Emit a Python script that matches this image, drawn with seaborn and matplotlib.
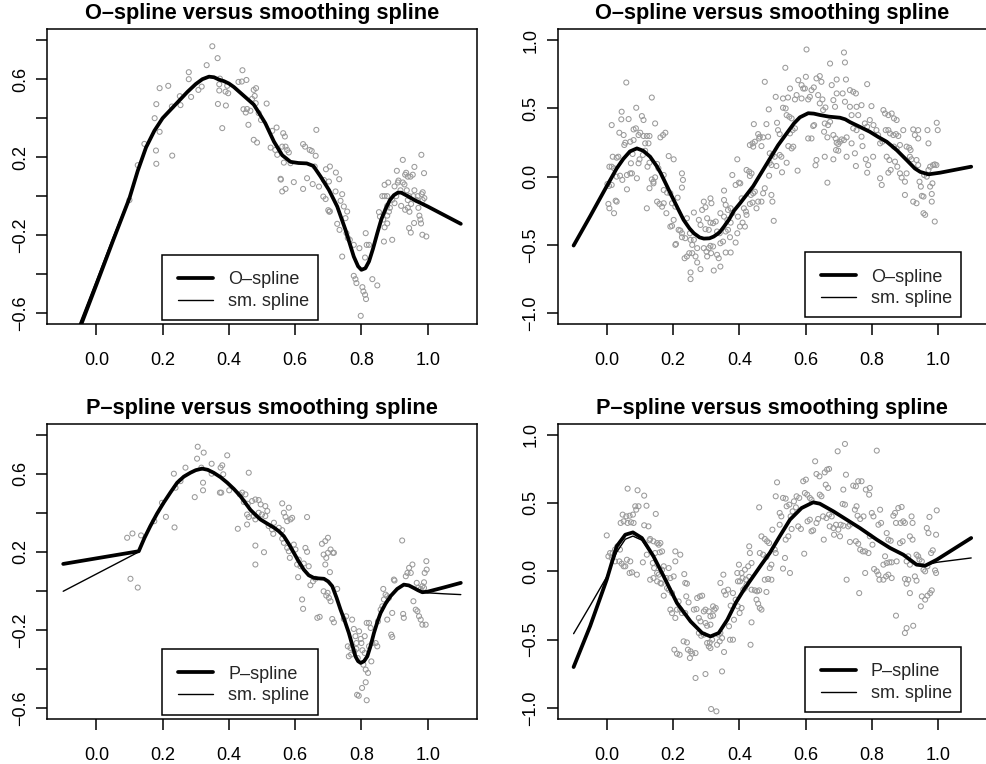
import numpy as np
import matplotlib
matplotlib.use("Agg")
import matplotlib.pyplot as plt
from matplotlib.patches import Rectangle
import seaborn as sns

# ---------------- data ----------------
# Top-left panel: O-spline vs smoothing spline
tl_points = [
    (0.10, -0.02), (0.125, 0.159), (0.145, 0.268), (0.176, 0.40), (0.18, 0.234), (0.181, 0.166),
    (0.181, 0.472), (0.191, 0.33), (0.191, 0.554), (0.217, 0.566), (0.229, 0.208), (0.228, 0.46),
    (0.252, 0.513), (0.254, 0.467), (0.279, 0.636), (0.279, 0.60), (0.286, 0.509), (0.308, 0.545),
    (0.318, 0.562), (0.333, 0.672), (0.35, 0.769), (0.366, 0.708), (0.373, 0.603), (0.371, 0.574),
    (0.371, 0.542), (0.367, 0.473), (0.38, 0.349), (0.39, 0.536), (0.398, 0.528), (0.391, 0.465),
    (0.395, 0.566), (0.429, 0.586), (0.439, 0.588), (0.441, 0.646), (0.453, 0.596), (0.444, 0.446),
    (0.451, 0.429), (0.459, 0.366), (0.475, 0.545), (0.482, 0.554), (0.47, 0.499), (0.478, 0.514),
    (0.455, 0.447), (0.465, 0.438), (0.481, 0.477), (0.49, 0.426), (0.497, 0.391), (0.514, 0.475),
    (0.475, 0.289), (0.485, 0.275), (0.531, 0.335), (0.544, 0.352), (0.526, 0.249), (0.54, 0.237),
    (0.546, 0.212), (0.564, 0.323), (0.569, 0.306), (0.561, 0.254), (0.571, 0.254), (0.576, 0.237),
    (0.581, 0.224), (0.566, 0.172), (0.586, 0.169), (0.556, 0.089), (0.557, 0.085), (0.561, 0.024),
    (0.571, 0.037), (0.596, 0.072), (0.624, 0.267), (0.63, 0.254), (0.644, 0.237), (0.65, 0.232),
    (0.662, 0.207), (0.664, 0.34), (0.624, 0.037), (0.636, 0.092), (0.653, 0.062), (0.672, 0.049),
    (0.659, 0.152), (0.685, -0.002), (0.692, -0.015), (0.693, 0.138), (0.705, 0.152), (0.687, 0.083),
    (0.702, 0.075), (0.723, 0.121), (0.733, 0.087), (0.700, -0.072), (0.705, -0.078), (0.703, -0.080),
    (0.722, 0.024), (0.737, -0.024), (0.742, 0.01), (0.747, -0.053), (0.757, -0.079), (0.752, -0.113),
    (0.727, -0.142), (0.734, -0.173), (0.742, -0.31), (0.755, -0.19), (0.759, -0.215), (0.765, -0.224),
    (0.777, -0.25), (0.794, -0.267), (0.813, -0.19), (0.816, -0.25), (0.823, -0.25), (0.811, -0.315),
    (0.777, -0.409), (0.782, -0.426), (0.785, -0.446), (0.803, -0.467), (0.806, -0.489), (0.811, -0.506),
    (0.814, -0.528), (0.798, -0.614), (0.833, -0.426), (0.848, -0.458), (0.853, -0.082), (0.856, -0.105),
    (0.866, -0.12), (0.870, -0.16), (0.878, -0.14), (0.878, -0.10), (0.883, -0.08), (0.886, -0.06),
    (0.878, -0.05), (0.868, -0.233), (0.893, -0.224), (0.870, 0.058), (0.881, 0.070), (0.863, 0.0),
    (0.870, 0.0), (0.878, 0.0), (0.893, -0.019), (0.9, -0.036), (0.9, 0.05), (0.905, 0.0),
    (0.91, 0.07), (0.912, 0.08), (0.918, 0.03), (0.925, 0.07), (0.93, 0.06), (0.937, 0.03),
    (0.94, -0.02), (0.944, 0.0), (0.907, 0.13), (0.925, 0.186), (0.932, 0.11), (0.935, 0.12),
    (0.94, 0.10), (0.948, 0.10), (0.955, 0.11), (0.96, 0.15), (0.981, 0.212), (0.989, 0.118),
    (0.92, -0.05), (0.932, -0.07), (0.94, -0.06), (0.945, -0.08), (0.95, -0.04), (0.944, -0.164),
    (0.949, -0.187), (0.959, -0.138), (0.967, -0.02), (0.972, -0.06), (0.975, -0.10), (0.978, -0.12),
    (0.98, -0.14), (0.97, 0.0), (0.985, 0.02), (0.982, 0.01), (0.985, -0.02), (0.99, -0.01),
    (0.984, -0.198), (0.996, -0.207), (0.957, 0.0), (0.96, 0.03),
]
tl_fit_x = [-0.1, 0.0, 0.05, 0.1, 0.125, 0.15, 0.175, 0.2, 0.225, 0.25, 0.275, 0.3, 0.32, 0.34,
            0.355, 0.37, 0.385, 0.4, 0.415, 0.435, 0.455, 0.475, 0.49, 0.51, 0.536, 0.561, 0.586,
            0.61, 0.635, 0.655, 0.677, 0.702, 0.727, 0.752, 0.777, 0.79, 0.80, 0.812, 0.823, 0.835,
            0.848, 0.86, 0.873, 0.886, 0.898, 0.91, 0.92, 0.94, 0.96, 1.0, 1.1]
tl_fit_y = [-0.90, -0.455, -0.23, -0.01, 0.13, 0.25, 0.335, 0.40, 0.445, 0.49, 0.535, 0.575, 0.60,
            0.613, 0.61, 0.598, 0.59, 0.578, 0.56, 0.53, 0.50, 0.47, 0.43, 0.374, 0.28, 0.21, 0.176,
            0.17, 0.168, 0.155, 0.10, 0.032, -0.053, -0.173, -0.31, -0.36, -0.378, -0.37, -0.335, -0.27,
            -0.19, -0.12, -0.065, -0.02, 0.005, 0.018, 0.018, 0.0, -0.02, -0.053, -0.142]
tl_sm_x = [-0.1, 0.0, 0.05, 0.1, 0.125, 0.15, 0.175, 0.2, 0.225, 0.25, 0.275, 0.3, 0.32, 0.34,
           0.355, 0.37, 0.385, 0.4, 0.415, 0.435, 0.455, 0.475, 0.49, 0.51, 0.536, 0.561, 0.586,
           0.61, 0.635, 0.655, 0.677, 0.702, 0.727, 0.752, 0.777, 0.79, 0.80, 0.812, 0.823, 0.835,
           0.848, 0.86, 0.873, 0.886, 0.898, 0.91, 0.92, 0.94, 0.96, 1.0, 1.1]
tl_sm_y = [-0.87, -0.435, -0.215, -0.005, 0.13, 0.25, 0.335, 0.40, 0.445, 0.49, 0.535, 0.575, 0.60,
           0.613, 0.61, 0.598, 0.59, 0.578, 0.56, 0.53, 0.50, 0.47, 0.43, 0.374, 0.28, 0.21, 0.176,
           0.17, 0.168, 0.155, 0.10, 0.032, -0.053, -0.173, -0.31, -0.36, -0.378, -0.37, -0.335, -0.27,
           -0.19, -0.12, -0.065, -0.02, 0.005, 0.018, 0.018, 0.0, -0.02, -0.053, -0.142]

# Top-right panel: O-spline vs smoothing spline
tr_points = [
    (0.059, 0.69), (0.136, 0.58), (0.015, 0.378), (0.045, 0.476), (0.089, 0.505), (0.106, 0.444),
    (0.111, 0.415), (0.066, 0.422), (0.044, 0.42), (0.038, 0.322), (0.051, 0.305), (0.081, 0.346),
    (0.088, 0.354), (0.101, 0.322), (0.111, 0.298), (0.121, 0.298), (0.129, 0.298), (0.146, 0.39),
    (0.162, 0.288), (0.17, 0.305), (0.177, 0.322), (0.056, 0.249), (0.071, 0.256), (0.081, 0.268),
    (0.096, 0.305), (0.116, 0.244), (0.126, 0.244), (0.053, 0.232), (0.078, 0.166), (0.018, 0.146),
    (0.03, 0.139), (0.035, 0.146), (0.008, 0.073), (0.015, 0.073), (0.022, 0.061), (0.03, 0.0),
    (0.047, -0.024), (0.04, 0.007), (0.061, 0.012), (0.071, 0.024), (0.076, 0.024), (0.073, 0.098),
    (0.091, -0.012), (0.096, 0.098), (0.099, 0.127), (0.109, 0.159), (0.116, 0.19), (0.123, 0.073),
    (0.129, 0.102), (0.136, -0.02), (0.141, -0.037), (0.146, -0.005), (0.152, 0.093), (0.156, 0.061),
    (0.172, 0.012), (0.187, 0.151), (0.202, 0.127), (0.227, 0.024), (0.23, -0.024), (0.227, -0.08),
    (0.002, -0.054), (0.007, -0.068), (0.015, -0.061), (0.061, -0.093), (0.005, -0.2), (0.008, -0.232),
    (0.022, -0.268), (0.027, -0.176), (0.03, -0.183), (0.121, -0.232), (0.129, -0.085), (0.141, -0.049),
    (0.152, -0.183), (0.159, -0.2), (0.167, -0.22), (0.172, -0.195), (0.18, -0.268), (0.172, -0.098),
    (0.182, -0.117), (0.192, -0.122), (0.197, -0.195), (0.207, -0.22), (0.214, -0.154), (0.192, -0.366),
    (0.197, -0.361), (0.202, -0.317), (0.207, -0.5), (0.209, -0.493), (0.217, -0.39), (0.222, -0.395),
    (0.227, -0.415), (0.242, -0.305), (0.227, -0.444), (0.237, -0.451), (0.251, -0.415), (0.253, -0.463),
    (0.258, -0.5), (0.263, -0.463), (0.273, -0.524), (0.235, -0.598), (0.242, -0.585), (0.249, -0.561),
    (0.258, -0.561), (0.268, -0.585), (0.273, -0.629), (0.283, -0.678), (0.253, -0.702), (0.253, -0.751),
    (0.293, -0.183), (0.298, -0.224), (0.313, -0.159), (0.316, -0.195), (0.288, -0.244), (0.263, -0.263),
    (0.278, -0.317), (0.283, -0.354), (0.303, -0.305), (0.298, -0.385), (0.308, -0.39), (0.313, -0.337),
    (0.321, -0.341), (0.329, -0.329), (0.333, -0.402), (0.341, -0.415), (0.293, -0.524), (0.301, -0.549),
    (0.308, -0.524), (0.313, -0.507), (0.321, -0.512), (0.303, -0.585), (0.315, -0.561), (0.323, -0.688),
    (0.343, -0.659), (0.333, -0.573), (0.338, -0.598), (0.343, -0.488), (0.351, -0.476), (0.354, -0.171),
    (0.359, -0.207), (0.366, -0.244), (0.374, -0.232), (0.343, -0.268), (0.354, -0.293), (0.364, -0.317),
    (0.374, -0.337), (0.379, -0.268), (0.359, -0.402), (0.366, -0.39), (0.372, -0.444), (0.359, -0.556),
    (0.374, -0.556), (0.389, -0.483), (0.394, -0.415), (0.354, -0.102), (0.379, 0.012), (0.394, 0.127),
    (0.389, -0.061), (0.399, -0.044), (0.396, -0.293), (0.402, -0.366),
    (0.403, -0.049), (0.407, -0.159), (0.414, -0.232), (0.42, -0.256), (0.422, -0.28), (0.41, -0.337),
    (0.417, -0.366), (0.432, -0.2), (0.44, -0.19), (0.435, -0.134), (0.442, -0.122), (0.447, -0.11),
    (0.422, 0.049), (0.43, 0.037), (0.437, 0.024), (0.432, 0.005), (0.432, 0.232), (0.44, 0.244),
    (0.447, 0.256), (0.457, 0.312), (0.46, 0.28), (0.467, 0.224), (0.462, 0.293), (0.472, 0.288),
    (0.487, 0.293), (0.477, 0.695), (0.444, 0.385), (0.457, -0.183), (0.467, -0.183), (0.472, -0.122),
    (0.477, -0.085), (0.442, 0.22), (0.452, -0.232), (0.482, 0.385), (0.492, 0.171), (0.5, 0.159),
    (0.507, 0.146), (0.492, 0.102), (0.497, 0.085), (0.49, 0.007), (0.497, -0.134), (0.5, -0.183),
    (0.504, -0.324), (0.489, 0.493), (0.51, 0.585), (0.514, 0.395), (0.517, 0.341), (0.522, 0.312),
    (0.512, 0.078), (0.522, 0.159), (0.527, 0.146), (0.529, 0.032), (0.539, 0.798), (0.532, 0.505),
    (0.54, 0.5), (0.532, 0.573), (0.547, 0.58), (0.543, 0.451), (0.551, 0.439), (0.558, 0.427),
    (0.553, 0.646), (0.543, 0.102), (0.548, 0.224), (0.558, 0.207), (0.563, 0.22), (0.553, 0.317),
    (0.561, 0.341), (0.568, 0.354), (0.568, 0.566), (0.573, 0.598), (0.576, 0.044), (0.578, 0.707),
    (0.588, 0.671), (0.593, 0.646), (0.588, 0.573), (0.598, 0.646), (0.601, 0.732), (0.603, 0.932),
    (0.608, 0.566), (0.613, 0.585), (0.618, 0.634), (0.625, 0.654), (0.623, 0.371), (0.626, 0.378),
    (0.608, 0.28), (0.618, 0.28), (0.633, 0.122), (0.63, 0.083), (0.633, 0.72), (0.643, 0.737),
    (0.648, 0.695), (0.638, 0.598), (0.643, 0.537), (0.651, 0.566), (0.653, 0.488), (0.66, 0.507),
    (0.658, 0.39), (0.668, 0.378), (0.674, 0.402), (0.656, 0.329), (0.666, 0.288), (0.658, 0.146),
    (0.674, 0.829), (0.666, -0.044), (0.679, 0.671), (0.684, 0.561), (0.689, 0.512), (0.694, 0.712),
    (0.684, 0.305), (0.691, 0.28), (0.694, 0.249), (0.699, 0.239), (0.704, 0.256), (0.684, 0.127),
    (0.692, 0.195), (0.699, 0.19), (0.716, 0.91), (0.719, 0.837), (0.722, 0.712), (0.694, 0.61),
    (0.712, 0.61), (0.719, 0.549), (0.709, 0.273), (0.716, 0.268), (0.724, 0.288), (0.724, 0.146),
    (0.734, 0.634), (0.744, 0.622), (0.752, 0.61), (0.734, 0.512), (0.739, 0.451), (0.744, 0.354),
    (0.754, 0.341), (0.739, 0.244), (0.749, 0.171), (0.752, 0.078), (0.754, 0.512), (0.759, 0.451),
    (0.769, 0.524), (0.769, 0.293), (0.772, 0.224), (0.779, 0.39), (0.786, 0.366), (0.794, 0.415),
    (0.786, 0.678), (0.782, 0.127), (0.789, 0.085), (0.786, 0.029), (0.799, 0.517), (0.804, 0.146),
    (0.805, 0.378), (0.814, 0.341), (0.819, 0.305), (0.825, -0.012), (0.83, -0.061), (0.835, 0.488),
    (0.84, 0.463), (0.85, 0.451), (0.842, 0.341), (0.85, 0.341), (0.855, 0.317), (0.825, 0.244),
    (0.832, 0.256), (0.845, 0.146), (0.853, 0.122), (0.85, 0.029), (0.857, 0.049), (0.86, 0.463),
    (0.867, 0.427), (0.875, 0.415), (0.865, 0.305), (0.873, 0.312), (0.88, 0.298), (0.867, 0.22),
    (0.875, 0.207), (0.885, 0.232), (0.87, 0.11), (0.877, 0.073), (0.885, 0.024), (0.89, -0.007),
    (0.9, -0.037), (0.905, 0.024), (0.895, 0.341), (0.905, 0.22), (0.913, 0.212), (0.917, 0.195),
    (0.9, -0.134), (0.915, 0.146), (0.92, 0.127), (0.925, 0.346), (0.93, 0.305), (0.94, 0.341),
    (0.94, 0.28), (0.925, -0.183), (0.935, -0.195), (0.935, 0.122), (0.94, 0.085), (0.944, -0.037),
    (0.948, -0.073), (0.951, -0.141), (0.956, -0.146), (0.956, -0.268), (0.961, -0.28), (0.958, 0.012),
    (0.966, 0.0), (0.971, 0.244), (0.968, 0.341), (0.971, 0.049), (0.976, 0.073), (0.976, -0.073),
    (0.981, -0.127), (0.981, -0.183), (0.985, 0.085), (0.99, 0.09), (0.995, 0.085), (0.983, -0.049),
    (0.99, -0.329), (0.996, 0.395), (0.999, 0.341),
]
tr_fit_x = [-0.1, -0.05, 0.0, 0.03, 0.05, 0.07, 0.091, 0.11, 0.131, 0.15, 0.162, 0.18, 0.197, 0.215,
            0.232, 0.25, 0.263, 0.28, 0.293, 0.31, 0.323, 0.34, 0.354, 0.37, 0.384, 0.404, 0.442,
            0.467, 0.492, 0.517, 0.543, 0.565, 0.583, 0.608, 0.625, 0.643, 0.67, 0.704, 0.72, 0.734,
            0.764, 0.794, 0.82, 0.845, 0.875, 0.905, 0.93, 0.946, 0.971, 1.006, 1.1]
tr_fit_y = [-0.505, -0.29, -0.07, 0.06, 0.13, 0.185, 0.207, 0.19, 0.146, 0.08, 0.03, -0.06, -0.146,
            -0.235, -0.317, -0.38, -0.415, -0.445, -0.454, -0.452, -0.439, -0.41, -0.366, -0.31,
            -0.25, -0.19, -0.07, 0.03, 0.13, 0.23, 0.317, 0.39, 0.435, 0.465, 0.462, 0.452, 0.44,
            0.432, 0.42, 0.40, 0.365, 0.329, 0.29, 0.256, 0.195, 0.122, 0.06, 0.035, 0.017, 0.029, 0.073]
tr_sm_x = list(tr_fit_x)
tr_sm_y = list(tr_fit_y)

# Bottom-left panel: P-spline vs smoothing spline
bl_points = [
    (0.093, 0.272), (0.109, 0.294), (0.135, 0.284), (0.103, 0.062), (0.125, 0.017), (0.175, 0.357),
    (0.198, 0.451), (0.21, 0.379), (0.236, 0.325), (0.234, 0.6), (0.239, 0.528), (0.254, 0.562),
    (0.269, 0.631), (0.297, 0.48), (0.304, 0.677), (0.306, 0.738), (0.324, 0.708), (0.317, 0.631),
    (0.322, 0.554), (0.322, 0.515), (0.348, 0.651), (0.348, 0.6), (0.375, 0.631), (0.38, 0.643),
    (0.383, 0.597), (0.373, 0.503), (0.377, 0.503), (0.395, 0.694), (0.401, 0.515), (0.427, 0.318),
    (0.433, 0.494), (0.445, 0.455), (0.457, 0.446), (0.455, 0.34), (0.46, 0.378), (0.46, 0.605),
    (0.44, 0.503), (0.45, 0.494), (0.47, 0.46), (0.48, 0.468), (0.49, 0.465), (0.496, 0.443),
    (0.475, 0.383), (0.49, 0.4), (0.5, 0.391), (0.51, 0.383), (0.455, 0.391), (0.48, 0.366),
    (0.51, 0.434), (0.516, 0.409), (0.48, 0.232), (0.48, 0.135), (0.506, 0.198), (0.52, 0.332),
    (0.53, 0.315), (0.536, 0.349), (0.534, 0.292), (0.561, 0.448), (0.581, 0.426), (0.566, 0.4),
    (0.571, 0.379), (0.576, 0.357), (0.586, 0.366), (0.591, 0.374), (0.551, 0.323), (0.561, 0.311),
    (0.561, 0.267), (0.566, 0.246), (0.576, 0.22), (0.581, 0.203), (0.584, 0.169), (0.596, 0.237),
    (0.601, 0.212), (0.606, 0.135), (0.611, 0.16), (0.616, 0.126), (0.609, 0.07), (0.631, 0.22),
    (0.636, 0.2), (0.636, 0.378), (0.626, 0.14), (0.641, 0.126), (0.646, 0.029), (0.654, 0.049),
    (0.661, 0.062), (0.621, -0.044), (0.624, -0.092), (0.667, -0.138), (0.674, -0.133), (0.681, 0.241),
    (0.691, 0.255), (0.699, 0.272), (0.686, 0.186), (0.694, 0.169), (0.699, 0.195), (0.707, 0.212),
    (0.714, 0.195), (0.717, 0.195), (0.691, 0.135), (0.705, 0.096), (0.686, -0.002), (0.694, -0.024),
    (0.702, -0.036), (0.707, -0.053), (0.698, -0.01), (0.712, -0.144), (0.717, -0.161), (0.727, 0.01),
    (0.747, -0.144), (0.754, -0.13), (0.759, -0.284), (0.762, -0.335), (0.769, -0.326), (0.767, -0.292),
    (0.772, -0.147), (0.777, -0.195), (0.782, -0.232), (0.785, -0.267), (0.793, -0.207), (0.798, -0.246),
    (0.8, -0.267), (0.779, -0.31), (0.785, -0.297), (0.789, -0.344), (0.803, -0.304), (0.81, -0.318),
    (0.806, -0.378), (0.813, -0.403), (0.82, -0.42), (0.787, -0.532), (0.792, -0.537), (0.802, -0.497),
    (0.813, -0.468), (0.816, -0.56), (0.816, -0.164), (0.823, -0.164), (0.828, -0.19), (0.81, -0.232),
    (0.823, -0.284), (0.833, -0.267), (0.843, -0.267), (0.848, -0.284), (0.83, -0.361), (0.85, -0.156),
    (0.858, -0.096), (0.863, -0.079), (0.868, -0.044), (0.873, -0.019), (0.866, 0.01), (0.878, -0.027),
    (0.883, -0.036), (0.878, -0.147), (0.89, -0.224), (0.893, -0.236), (0.893, -0.113), (0.898, 0.058),
    (0.9, 0.053), (0.923, 0.258), (0.926, -0.118), (0.928, -0.138), (0.934, 0.075), (0.939, 0.092),
    (0.944, 0.118), (0.949, 0.092), (0.954, 0.135), (0.957, -0.053), (0.964, -0.096), (0.969, -0.104),
    (0.974, -0.13), (0.979, -0.147), (0.984, -0.173), (0.971, 0.015), (0.979, 0.01), (0.984, 0.024),
    (0.989, 0.015), (0.967, 0.041), (0.989, 0.044), (0.991, 0.092), (0.996, 0.152), (0.997, 0.109),
    (0.994, -0.173),
]
bl_fit_x = [-0.1, 0.128, 0.145, 0.163, 0.183, 0.203, 0.224, 0.244, 0.264, 0.284, 0.30, 0.319, 0.336,
            0.354, 0.375, 0.395, 0.415, 0.435, 0.45, 0.465, 0.48, 0.495, 0.515, 0.536, 0.551, 0.566,
            0.581, 0.596, 0.611, 0.626, 0.641, 0.656, 0.671, 0.687, 0.70, 0.712, 0.725, 0.737, 0.75,
            0.762, 0.772, 0.782, 0.79, 0.798, 0.808, 0.818, 0.828, 0.838, 0.848, 0.858, 0.873, 0.888,
            0.908, 0.928, 0.943, 0.958, 0.971, 0.984, 1.0, 1.05, 1.1]
bl_fit_y = [0.138, 0.203, 0.27, 0.332, 0.395, 0.451, 0.505, 0.554, 0.585, 0.605, 0.618, 0.626, 0.62,
            0.605, 0.582, 0.554, 0.522, 0.485, 0.45, 0.415, 0.39, 0.366, 0.345, 0.324, 0.305, 0.28,
            0.24, 0.195, 0.15, 0.109, 0.08, 0.067, 0.064, 0.062, 0.048, 0.024, -0.035, -0.096, -0.155,
            -0.215, -0.275, -0.335, -0.36, -0.369, -0.36, -0.335, -0.28, -0.215, -0.16, -0.113, -0.065,
            -0.027, 0.01, 0.032, 0.028, 0.015, 0.003, -0.007, -0.004, 0.018, 0.041]
bl_sm_x = [-0.1, 0.123, 0.145, 0.163, 0.183, 0.203, 0.224, 0.244, 0.264, 0.284, 0.30, 0.319, 0.336,
           0.354, 0.375, 0.395, 0.415, 0.435, 0.45, 0.465, 0.48, 0.495, 0.515, 0.536, 0.551, 0.566,
           0.581, 0.596, 0.611, 0.626, 0.641, 0.656, 0.671, 0.687, 0.70, 0.712, 0.725, 0.737, 0.75,
           0.762, 0.772, 0.782, 0.79, 0.798, 0.808, 0.818, 0.828, 0.838, 0.848, 0.858, 0.873, 0.888,
           0.908, 0.928, 0.943, 0.958, 0.971, 0.984, 1.0, 1.05, 1.1]
bl_sm_y = [-0.002, 0.195, 0.265, 0.33, 0.395, 0.451, 0.505, 0.554, 0.585, 0.605, 0.618, 0.626, 0.62,
           0.605, 0.582, 0.554, 0.522, 0.485, 0.45, 0.415, 0.39, 0.366, 0.345, 0.324, 0.305, 0.28,
           0.24, 0.195, 0.15, 0.109, 0.08, 0.067, 0.064, 0.062, 0.048, 0.024, -0.035, -0.096, -0.155,
           -0.215, -0.275, -0.335, -0.36, -0.369, -0.36, -0.335, -0.28, -0.215, -0.16, -0.113, -0.065,
           -0.027, 0.01, 0.032, 0.028, 0.015, 0.003, -0.005, -0.01, -0.015, -0.019]

# Bottom-right panel: P-spline vs smoothing spline
br_points = [
    (0.063, 0.605), (0.093, 0.593), (0.113, 0.554), (0.12, 0.48), (0.086, 0.476), (0.096, 0.476),
    (0.089, 0.451), (0.148, 0.42), (0.048, 0.415), (0.059, 0.402), (0.069, 0.407), (0.079, 0.415),
    (0.042, 0.354), (0.051, 0.366), (0.063, 0.354), (0.073, 0.359), (0.081, 0.354), (0.113, 0.337),
    (0.126, 0.329), (0.0, 0.263), (0.01, 0.134), (0.018, 0.134), (0.025, 0.159), (0.032, 0.183),
    (0.04, 0.159), (0.005, 0.11), (0.015, 0.098), (0.025, 0.073), (0.038, 0.073), (0.045, 0.056),
    (0.051, 0.037), (0.056, 0.037), (0.061, 0.085), (0.071, 0.073), (0.069, -0.012), (0.076, -0.007),
    (0.091, -0.024), (0.109, 0.066), (0.121, 0.122), (0.129, 0.227), (0.131, 0.237), (0.141, 0.22),
    (0.152, 0.207), (0.157, 0.195), (0.162, 0.207), (0.146, 0.134), (0.16, 0.139), (0.167, 0.146),
    (0.139, 0.061), (0.143, 0.024), (0.152, -0.012), (0.131, -0.061), (0.141, -0.049), (0.152, -0.073),
    (0.162, -0.085), (0.165, -0.09), (0.172, -0.178), (0.157, -0.024), (0.167, 0.012), (0.172, 0.037),
    (0.18, -0.049), (0.192, -0.049), (0.202, -0.037), (0.182, -0.122), (0.187, -0.134), (0.197, -0.159),
    (0.207, 0.073), (0.207, 0.146), (0.187, 0.024), (0.222, 0.122), (0.234, -0.02), (0.237, -0.085),
    (0.242, -0.09), (0.192, -0.28), (0.197, -0.305), (0.207, -0.341), (0.212, -0.28), (0.217, -0.22),
    (0.222, -0.28), (0.227, -0.305), (0.237, -0.305), (0.24, -0.183), (0.247, -0.227), (0.204, -0.573),
    (0.212, -0.602), (0.22, -0.61), (0.232, -0.512), (0.242, -0.52), (0.245, -0.573), (0.253, -0.585),
    (0.258, -0.602), (0.251, -0.634), (0.268, -0.598), (0.263, -0.28), (0.271, -0.276), (0.273, -0.195),
    (0.281, -0.183), (0.288, -0.178), (0.278, -0.341), (0.283, -0.366), (0.298, -0.378), (0.303, -0.398),
    (0.313, -0.39), (0.278, -0.451), (0.285, -0.471), (0.293, -0.463), (0.293, -0.293), (0.298, -0.28),
    (0.308, -0.293), (0.321, -0.256), (0.325, -0.28), (0.329, -0.268), (0.313, -0.329), (0.321, -0.324),
    (0.303, -0.524), (0.311, -0.52), (0.318, -0.5), (0.308, -0.549), (0.313, -0.561), (0.298, -0.751),
    (0.268, -0.78), (0.315, -1.007), (0.331, -1.024), (0.333, -0.537), (0.341, -0.512), (0.348, -0.488),
    (0.338, -0.463), (0.343, -0.451), (0.348, -0.732), (0.354, -0.59), (0.343, -0.085), (0.354, -0.146),
    (0.359, -0.171), (0.366, -0.134), (0.352, -0.024), (0.374, -0.251), (0.369, -0.402), (0.372, -0.5),
    (0.381, -0.5), (0.381, -0.159), (0.389, -0.207), (0.396, -0.256), (0.384, -0.354), (0.394, -0.012),
    (0.399, 0.049), (0.396, -0.073), (0.402, -0.073),
    (0.401, -0.305), (0.407, -0.268), (0.412, -0.134), (0.417, -0.122), (0.422, -0.098), (0.41, -0.05),
    (0.42, -0.06), (0.43, -0.04), (0.407, -0.012), (0.417, 0.012), (0.427, 0.037), (0.437, 0.061),
    (0.432, 0.134), (0.43, 0.183), (0.437, -0.134), (0.447, -0.139), (0.454, -0.146), (0.46, -0.139),
    (0.452, -0.207), (0.457, -0.237), (0.462, -0.268), (0.467, -0.28), (0.437, -0.373), (0.434, -0.537),
    (0.46, 0.468), (0.462, 0.134), (0.472, 0.122), (0.482, 0.105), (0.467, 0.256), (0.477, 0.237),
    (0.484, 0.22), (0.49, 0.207), (0.477, -0.061), (0.487, -0.056), (0.497, -0.061), (0.482, -0.151),
    (0.5, 0.305), (0.492, 0.024), (0.497, 0.049), (0.507, 0.159), (0.51, 0.134), (0.514, 0.651),
    (0.51, 0.549), (0.522, 0.427), (0.527, 0.402), (0.522, 0.341), (0.532, 0.537), (0.54, 0.532),
    (0.543, 0.476), (0.551, 0.488), (0.532, 0.02), (0.553, -0.012), (0.54, 0.232), (0.548, 0.256),
    (0.538, 0.098), (0.555, 0.402), (0.561, 0.439), (0.558, 0.31), (0.565, 0.512), (0.571, 0.468),
    (0.573, 0.549), (0.581, 0.537), (0.578, 0.329), (0.586, 0.31), (0.593, 0.659), (0.601, 0.671),
    (0.598, 0.573), (0.605, 0.561), (0.596, 0.129), (0.606, 0.366), (0.613, 0.378), (0.613, 0.537),
    (0.618, 0.524), (0.618, 0.293), (0.623, 0.3), (0.629, 0.805), (0.633, 0.712), (0.642, 0.695),
    (0.633, 0.354), (0.638, 0.383), (0.643, 0.561), (0.648, 0.549), (0.655, 0.232), (0.658, 0.724),
    (0.665, 0.744), (0.671, 0.749), (0.661, 0.634), (0.668, 0.61), (0.653, 0.402), (0.663, 0.39),
    (0.671, 0.415), (0.673, 0.329), (0.684, 0.317), (0.692, 0.341), (0.699, 0.305), (0.679, 0.402),
    (0.686, 0.268), (0.697, 0.878), (0.704, 0.256), (0.706, 0.341), (0.714, 0.334), (0.712, 0.493),
    (0.719, 0.488), (0.714, 0.598), (0.719, 0.932), (0.722, 0.707), (0.724, -0.061), (0.729, 0.329),
    (0.734, 0.341), (0.734, 0.215), (0.744, 0.627), (0.752, 0.622), (0.749, 0.451), (0.754, 0.476),
    (0.759, 0.659), (0.769, 0.659), (0.762, -0.159), (0.757, 0.407), (0.765, 0.383), (0.775, 0.402),
    (0.752, 0.22), (0.759, 0.202), (0.765, 0.159), (0.773, 0.146), (0.78, 0.146), (0.79, 0.134),
    (0.782, 0.598), (0.794, 0.61), (0.792, 0.561), (0.78, -0.012), (0.794, 0.256), (0.802, 0.195),
    (0.8, 0.427), (0.805, 0.402), (0.815, 0.883), (0.82, 0.341), (0.828, 0.354), (0.825, 0.451),
    (0.807, 0.017), (0.815, 0.0), (0.82, -0.024), (0.823, -0.061), (0.835, -0.061), (0.843, -0.037),
    (0.85, -0.024), (0.86, -0.049), (0.84, 0.11), (0.845, 0.28), (0.85, 0.232), (0.857, 0.224),
    (0.835, 0.049), (0.845, 0.061), (0.853, 0.066), (0.86, 0.066), (0.865, 0.407), (0.87, 0.427),
    (0.873, 0.354), (0.873, -0.324), (0.875, 0.073), (0.885, 0.207), (0.893, 0.22), (0.88, 0.463),
    (0.89, 0.471), (0.887, 0.354), (0.895, 0.366), (0.9, 0.354), (0.9, -0.451), (0.905, -0.415),
    (0.925, -0.398), (0.905, 0.073), (0.91, 0.11), (0.915, 0.049), (0.9, -0.056), (0.905, -0.09),
    (0.91, -0.061), (0.915, -0.159), (0.915, 0.256), (0.923, 0.232), (0.92, 0.402), (0.923, 0.354),
    (0.93, -0.037), (0.935, -0.068), (0.935, 0.122), (0.94, 0.11), (0.944, 0.085), (0.951, 0.073),
    (0.948, -0.256), (0.951, -0.183), (0.961, -0.207), (0.968, -0.178), (0.976, -0.159), (0.981, -0.139),
    (0.956, 0.012), (0.961, 0.0), (0.968, 0.037), (0.966, 0.317), (0.971, 0.28), (0.974, 0.398),
    (0.979, 0.134), (0.984, 0.154), (0.991, 0.007), (0.994, -0.012), (0.994, 0.268), (0.996, 0.446),
]
br_fit_x = [-0.1, -0.05, 0.0, 0.03, 0.056, 0.079, 0.106, 0.141, 0.172, 0.212, 0.253, 0.288, 0.313,
            0.338, 0.364, 0.389, 0.415, 0.442, 0.467, 0.492, 0.522, 0.553, 0.588, 0.623, 0.643,
            0.684, 0.724, 0.764, 0.815, 0.855, 0.895, 0.935, 0.961, 0.996, 1.1]
br_fit_y = [-0.70, -0.40, -0.06, 0.183, 0.268, 0.285, 0.244, 0.11, -0.037, -0.232, -0.366, -0.451,
            -0.476, -0.451, -0.354, -0.232, -0.13, -0.037, 0.05, 0.134, 0.256, 0.378, 0.463, 0.505,
            0.495, 0.439, 0.378, 0.317, 0.232, 0.171, 0.122, 0.049, 0.041, 0.085, 0.244]
br_sm_x = list(br_fit_x)
br_sm_y = [-0.456, -0.25, -0.04, 0.14, 0.235, 0.258, 0.228, 0.11, -0.037, -0.232, -0.366, -0.451,
           -0.476, -0.451, -0.354, -0.232, -0.13, -0.037, 0.05, 0.134, 0.256, 0.378, 0.463, 0.505,
           0.495, 0.439, 0.378, 0.317, 0.232, 0.171, 0.122, 0.049, 0.045, 0.066, 0.098]

x_ticks = [0.0, 0.2, 0.4, 0.6, 0.8, 1.0]
x_ticklabels = ["0.0", "0.2", "0.4", "0.6", "0.8", "1.0"]
left_yticks = [-0.6, -0.4, -0.2, 0.0, 0.2, 0.4, 0.6, 0.8]
left_yticklabels = ["\u22120.6", "", "\u22120.2", "", "0.2", "", "0.6", ""]
right_yticks = [-1.0, -0.5, 0.0, 0.5, 1.0]
right_yticklabels = ["\u22121.0", "\u22120.5", "0.0", "0.5", "1.0"]
titles = ["O\u2013spline versus smoothing spline", "O\u2013spline versus smoothing spline",
          "P\u2013spline versus smoothing spline", "P\u2013spline versus smoothing spline"]
fit_labels = ["O\u2013spline", "O\u2013spline", "P\u2013spline", "P\u2013spline"]

# ---------------- styling ----------------
sns.set_theme(style="ticks")
plt.rcParams["font.family"] = ["Liberation Sans", "DejaVu Sans"]

GRAY = "#9a9a9a"
W, H = 986, 764
fig = plt.figure(figsize=(W / 100, H / 100), dpi=100)
fig.patch.set_facecolor("white")


def add_axes_px(l, t, r, b):
    return fig.add_axes([l / W, 1 - b / H, (r - l) / W, (b - t) / H])


# axes boxes and legend frames, in picture pixels (left, top, right, bottom)
boxes = [(47.3, 29.3, 476.7, 324.0), (557.7, 29.3, 987.1, 324.0),
         (47.3, 423.7, 476.7, 719.0), (557.7, 423.7, 987.1, 719.0)]
legend_frames = [(162.3, 255.0, 318.3, 320.0), (805.0, 252.3, 961.3, 317.3),
                 (162.3, 649.3, 318.3, 715.0), (805.0, 646.7, 961.3, 712.3)]

panels = [
    (tl_points, tl_fit_x, tl_fit_y, tl_sm_x, tl_sm_y, (-0.656, 0.856), left_yticks, left_yticklabels),
    (tr_points, tr_fit_x, tr_fit_y, tr_sm_x, tr_sm_y, (-1.08, 1.08), right_yticks, right_yticklabels),
    (bl_points, bl_fit_x, bl_fit_y, bl_sm_x, bl_sm_y, (-0.656, 0.856), left_yticks, left_yticklabels),
    (br_points, br_fit_x, br_fit_y, br_sm_x, br_sm_y, (-1.08, 1.08), right_yticks, right_yticklabels),
]

for i, (pts, fx, fy, sx, sy, ylim, yt, ytl) in enumerate(panels):
    ax = add_axes_px(*boxes[i])
    ax.set_facecolor("white")
    px = [p[0] for p in pts]
    py = [p[1] for p in pts]
    sns.scatterplot(x=px, y=py, ax=ax, marker="o", s=13, color=GRAY, facecolors="none",
                    edgecolor=GRAY, linewidth=0.75, legend=False, zorder=2)
    sns.lineplot(x=fx, y=fy, ax=ax, color="black", linewidth=2.7, sort=False,
                 estimator=None, label=fit_labels[i], zorder=4)
    sns.lineplot(x=sx, y=sy, ax=ax, color="black", linewidth=1.0, sort=False,
                 estimator=None, label="sm. spline", zorder=3)
    ax.set_xlim(-0.148, 1.148)
    ax.set_ylim(*ylim)
    ax.set_xticks(x_ticks)
    ax.set_xticklabels(x_ticklabels)
    ax.set_yticks(yt)
    ax.set_yticklabels(ytl, rotation=90, va="center")
    ax.set_xlabel("")
    ax.set_ylabel("")
    for sp in ax.spines.values():
        sp.set_visible(True)
        sp.set_color("black")
        sp.set_linewidth(1.1)
    ax.tick_params(axis="both", direction="out", length=7.9, width=1.1, color="black",
                   labelsize=13, labelcolor="black")
    ax.tick_params(axis="x", pad=12.3)
    ax.tick_params(axis="y", pad=5.3)
    ax.set_title(titles[i], fontsize=15.7, fontweight="bold", pad=7.1, color="black")

    # legend: white box with black frame, entries placed inside it
    fl, ft, fr, fb = legend_frames[i]
    frame = Rectangle((fl / W, 1 - fb / H), (fr - fl) / W, (fb - ft) / H,
                      transform=fig.transFigure, facecolor="white", edgecolor="black",
                      linewidth=1.1, zorder=8, clip_on=False)
    ax.add_patch(frame)
    handles, labels = ax.get_legend_handles_labels()
    leg = ax.legend(handles, labels, loc="upper left",
                    bbox_to_anchor=((fl + 15.5) / W, 1 - (ft + 16.3) / H),
                    bbox_transform=fig.transFigure, borderaxespad=0, borderpad=0,
                    frameon=False, fontsize=13, handlelength=1.94,
                    handletextpad=0.85, labelspacing=0.27)
    leg.set_zorder(10)

fig.savefig("out.png", dpi=100, facecolor="white")
